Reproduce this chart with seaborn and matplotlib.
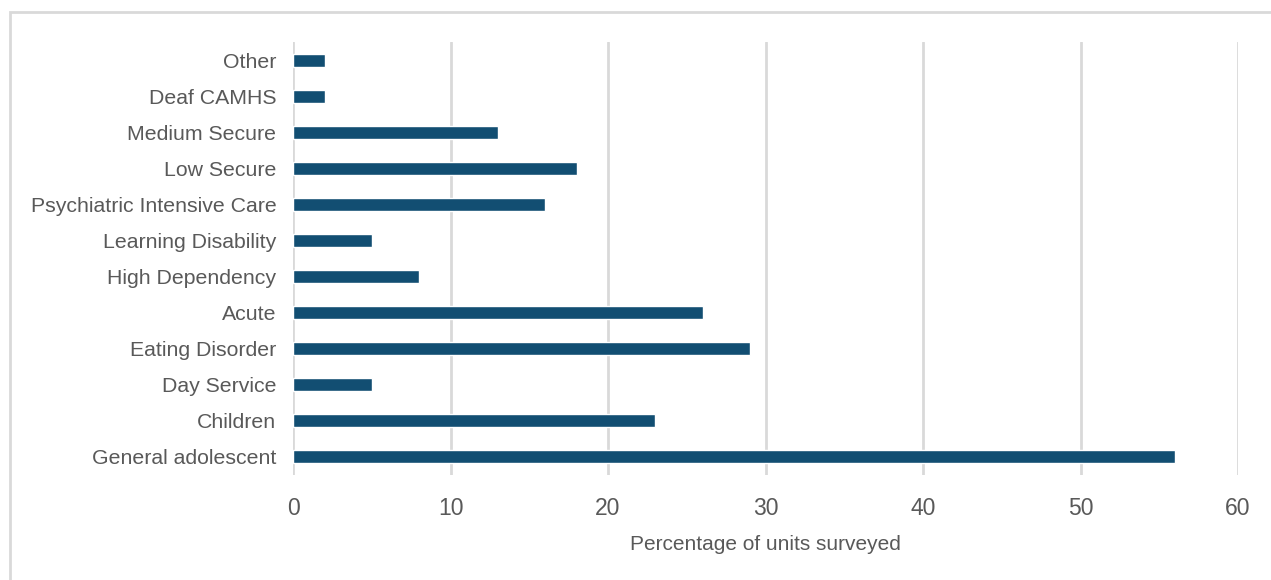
import matplotlib
matplotlib.use("Agg")
import matplotlib.pyplot as plt
import seaborn as sns
import pandas as pd
from matplotlib.patches import Rectangle

categories = ["Other", "Deaf CAMHS", "Medium Secure", "Low Secure",
              "Psychiatric Intensive Care", "Learning Disability", "High Dependency",
              "Acute", "Eating Disorder", "Day Service", "Children", "General adolescent"]
values = [2, 2, 13, 18, 16, 5, 8, 26, 29, 5, 23, 56]
x_ticks = [0, 10, 20, 30, 40, 50, 60]
x_label = "Percentage of units surveyed"

df = pd.DataFrame({"category": categories, "value": values})

sns.set_theme(style="white")
plt.rcParams["font.family"] = ["Liberation Sans", "DejaVu Sans"]

fig = plt.figure(figsize=(12.71, 5.80), dpi=100)
ax = fig.add_axes([293 / 1271, 1 - 475 / 580, (1238 - 293) / 1271, (475 - 42) / 580])

sns.barplot(data=df, x="value", y="category", order=categories, color="#124e72",
            width=0.36, ax=ax, orient="h", saturation=1, zorder=3)

ax.set_xlim(0, 60)
ax.set_ylim(len(categories) - 0.5, -0.5)
ax.set_xticks(x_ticks)
ax.set_xticklabels([str(t) for t in x_ticks])
ax.grid(axis="x", color="#d9d9d9", linewidth=2, zorder=0)
ax.grid(axis="y", visible=False)
for s in ax.spines.values():
    s.set_visible(False)
ax.tick_params(axis="both", length=0, labelcolor="#595959")
ax.tick_params(axis="y", pad=12, labelsize=15.3)
ax.tick_params(axis="x", pad=16, labelsize=16.5)
ax.set_ylabel("")
ax.set_xlabel(x_label, color="#595959", fontsize=15, labelpad=11)

# outer frame: only left and top edges are visible in the image
fig.patches.append(Rectangle((10 / 1271, -0.2), 1.5, (1 - 12 / 580) + 0.2,
                             transform=fig.transFigure, fill=False,
                             edgecolor="#d9d9d9", linewidth=2))

fig.savefig("out.png", dpi=100)
